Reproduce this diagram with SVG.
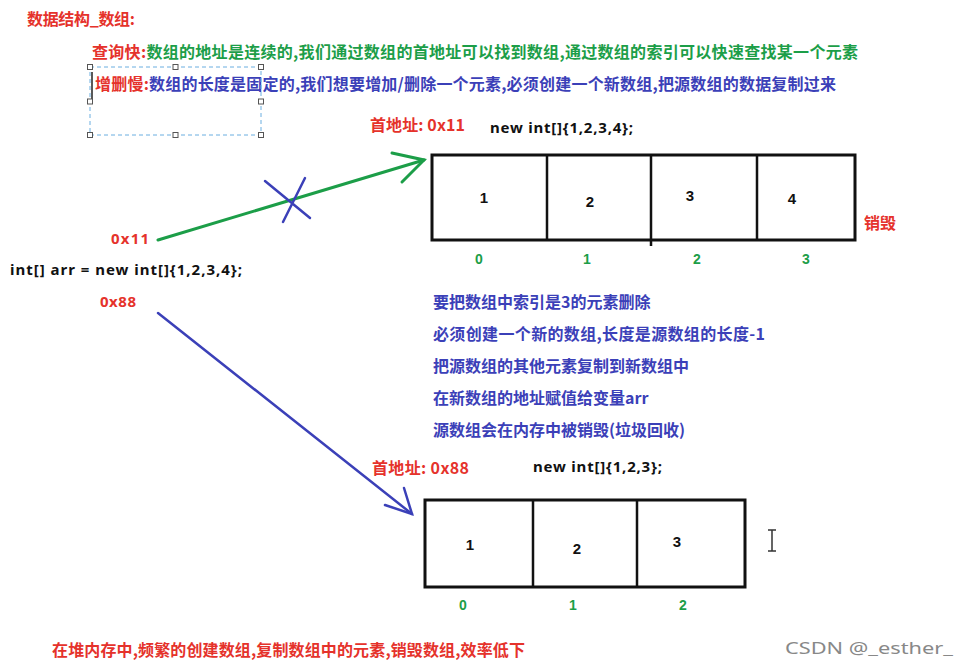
<svg xmlns="http://www.w3.org/2000/svg" width="958" height="665" viewBox="0 0 958 665">
<style>
text{font-family:"Noto Sans CJK SC","Liberation Sans",sans-serif;font-weight:bold;font-size:16px}
.r{fill:#e5322b}.g{fill:#1c9e48}.b{fill:#3b40b8}.k{fill:#111}
.box{fill:none;stroke:#111;stroke-width:3}
.num{font-family:"Liberation Sans",sans-serif;font-size:15px;fill:#111;text-anchor:middle}
.idx{font-family:"Liberation Sans",sans-serif;font-size:14px;fill:#1c9e48;text-anchor:middle}
.lat{font-family:"Noto Sans","Liberation Sans",sans-serif;font-size:15px}
.h{fill:#fff;stroke:#555;stroke-width:1}
.wm{font-family:"Noto Sans","Liberation Sans",sans-serif;font-weight:normal;font-size:17px;fill:#888}
</style>
<rect width="958" height="665" fill="#fff"/>
<text x="27" y="25" class="r" textLength="108">数据结构_数组:</text>
<text x="92" y="58" textLength="766"><tspan class="r">查询快:</tspan><tspan class="g">数组的地址是连续的,我们通过数组的首地址可以找到数组,通过数组的索引可以快速查找某一个元素</tspan></text>
<text x="95" y="90" textLength="741"><tspan class="r">增删慢:</tspan><tspan class="b">数组的长度是固定的,我们想要增加/删除一个元素,必须创建一个新数组,把源数组的数据复制过来</tspan></text>
<g id="selection">
<rect x="90" y="67" width="171" height="68" fill="none" stroke="#6aaee0" stroke-dasharray="4,3"/>
<path d="M92 72V100" stroke="#222" stroke-width="1.500"/>
<rect class="h" x="87.500" y="64.500" width="5" height="5"/><rect class="h" x="173" y="64.500" width="5" height="5"/><rect class="h" x="258.500" y="64.500" width="5" height="5"/>
<rect class="h" x="87.500" y="99" width="5" height="5"/><rect class="h" x="258.500" y="99" width="5" height="5"/>
<rect class="h" x="87.500" y="132.500" width="5" height="5"/><rect class="h" x="173" y="132.500" width="5" height="5"/><rect class="h" x="258.500" y="132.500" width="5" height="5"/>
</g>
<text x="370" y="131" class="r" textLength="95">首地址: 0x11</text>
<text x="490" y="133" class="k lat" textLength="143">new int[]{1,2,3,4};</text>
<g id="array1">
<rect class="box" x="432" y="155" width="423" height="85"/>
<path d="M547 155V240M651 155V246M757 155V240" stroke="#111" stroke-width="2.500"/>
<text class="num" x="484" y="203">1</text><text class="num" x="590" y="207">2</text><text class="num" x="690" y="201">3</text><text class="num" x="792" y="204">4</text>
<text class="idx" x="479" y="264">0</text><text class="idx" x="587" y="264">1</text><text class="idx" x="697" y="264">2</text><text class="idx" x="806" y="264">3</text>
<text x="864" y="229" class="r">销毁</text>
</g>
<text x="111" y="244" class="r lat" textLength="38">0x11</text>
<text x="10" y="275" class="k lat" textLength="232">int[] arr = new int[]{1,2,3,4};</text>
<text x="100" y="307" class="r lat" textLength="36">0x88</text>
<g id="connectors" fill="none" stroke-linecap="round">
<path d="M158 240L424 160" stroke="#1c9e48" stroke-width="3"/>
<path d="M392 153L424 160L402 182" stroke="#1c9e48" stroke-width="3"/>
<path d="M265 181L310 218M305 178L283 222" stroke="#3b40b8" stroke-width="2.500"/>
<path d="M158 313L412 514" stroke="#3b40b8" stroke-width="2.500"/>
<path d="M385 505L412 514L404 488" stroke="#3b40b8" stroke-width="2.500"/>
</g>
<g>
<text x="433" y="308" class="b">要把数组中索引是3的元素删除</text>
<text x="433" y="340" class="b" textLength="332">必须创建一个新的数组,长度是源数组的长度-1</text>
<text x="433" y="372" class="b">把源数组的其他元素复制到新数组中</text>
<text x="433" y="404" class="b">在新数组的地址赋值给变量arr</text>
<text x="433" y="436" class="b">源数组会在内存中被销毁(垃圾回收)</text>
</g>
<text x="372" y="474" class="r" textLength="97">首地址: 0x88</text>
<text x="533" y="472" class="k lat" textLength="129">new int[]{1,2,3};</text>
<g id="array2">
<rect class="box" x="425" y="500" width="320" height="87"/>
<path d="M533 500V587M637 500V587" stroke="#111" stroke-width="2.500"/>
<text class="num" x="470" y="550">1</text><text class="num" x="577" y="554">2</text><text class="num" x="677" y="547">3</text>
<text class="idx" x="463" y="610">0</text><text class="idx" x="573" y="610">1</text><text class="idx" x="683" y="610">2</text>
</g>
<path d="M768 530h8M772 530V551M768 551h8" stroke="#333" stroke-width="1.500" fill="none"/>
<text x="52" y="656" class="r" textLength="473">在堆内存中,频繁的创建数组,复制数组中的元素,销毁数组,效率低下</text>
<text x="785" y="654" class="wm" textLength="168" lengthAdjust="spacingAndGlyphs">CSDN @_esther_</text>
</svg>
